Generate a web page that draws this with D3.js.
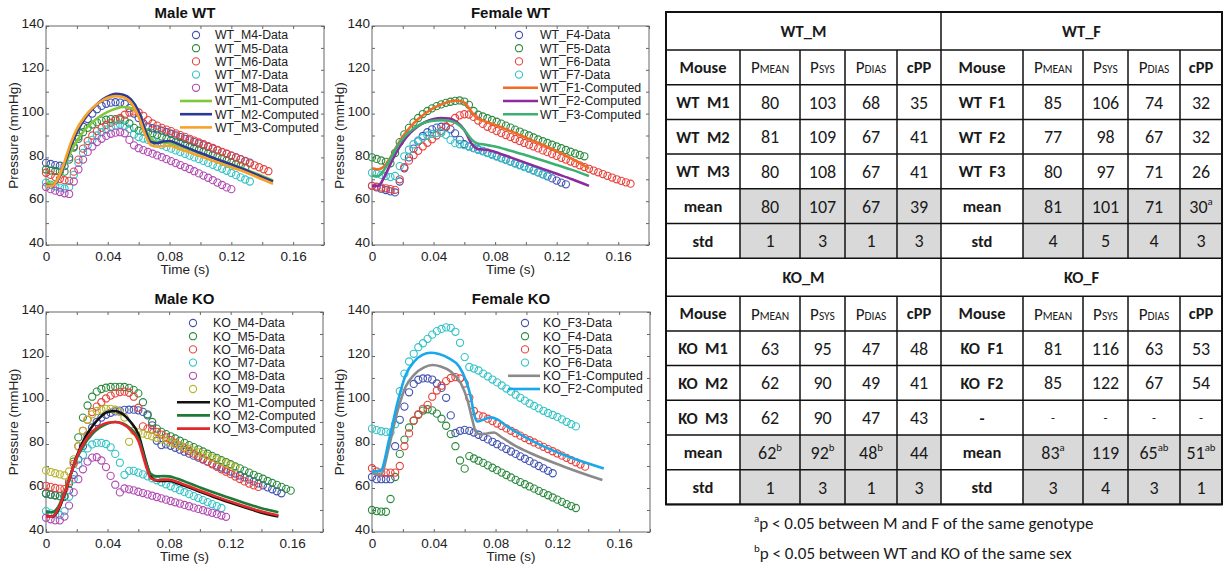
<!DOCTYPE html>
<html>
<head>
<meta charset="utf-8">
<script src="https://cdn.jsdelivr.net/npm/d3@7/dist/d3.min.js"></script>
<style>
body { margin: 0; background: #fff; }
svg { display: block; }
text { white-space: pre; }
</style>
</head>
<body>
<svg id="fig" width="1225" height="571"></svg>
<script>
// sampling step of the measured data (s)
var dt = 0.003

// axis ticks
var xTicks = [0, 0.02, 0.04, 0.06, 0.08, 0.1, 0.12, 0.14, 0.16, 0.18]
var xLabelTicks = [0, 0.04, 0.08, 0.12, 0.16]
var yTicks = [40, 50, 60, 70, 80, 90, 100, 110, 120, 130, 140]
var yLabelTicks = [40, 60, 80, 100, 120, 140]

// ---- Male WT ----
var wtM4 = [77.5,77,76.5,76.2,76,80,85,89.5,94,97.5,100,102,103.5,104.5,105,105.2,105,104.5,102.5,100,98,95.5,94,93.3,92.8,92.2,91.5,90.8,90,89.3,88.5,87.8,87,86.3,85.5,84.8,84,83.2,82.4,81.6,80.8,80,79.2,78.4,77.6]
var wtM5 = [74.5,74,73.8,73.5,73.5,79,84.5,88.5,91.5,93.5,95,96,96.8,97.2,97.5,97.5,97.3,96.8,95.5,93.5,92.2,91.8,91.4,91,90.3,89.5,88.7,88,87.2,86.5,85.8,85,84.3,83.5,82.8,82,81.2,80.4,79.5,78.7,77.8,77,76.2,75.3]
var wtM6 = [73,72,71,70.2,69.6,69.3,73.5,79,84,87.5,90,92,93.5,94.8,95.8,96.8,98,99.5,100.5,101,100.5,99,97,95.5,94.5,93.5,92.7,92,91,90.2,89.4,88.5,87.7,86.8,86,85.1,84.3,83.4,82.5,81.7,80.8,80,79.1,78.2,77.3,76.4,75.5,74.6,73.7]
var wtM7 = [68.5,67.5,66.8,66.2,65.8,66.5,72,77.5,82,85.5,88,90,91.5,92.7,93.7,94.5,95,94.5,93,90.5,89.3,88.6,88,87.2,86.4,85.6,84.8,84,83.2,82.4,81.6,80.8,80,79.2,78.4,77.5,76.6,75.7,74.8,73.9,72.9,71.9,70.9,69.9,69]
var wtM8 = [66.5,65.5,64.8,64.2,63.6,63.3,69,74.5,79,82.5,85,87,88.5,89.8,90.8,91.3,91.5,91,88,85.5,84.2,83.3,82.5,81.7,80.9,80.1,79.2,78.3,77.4,76.5,75.6,74.7,73.7,72.7,71.7,70.7,69.6,68.5,67.4,66.3,65.5]
var tWTM = [0,.004,.008,.012,.016,.02,.025,.03,.035,.04,.045,.05,.055,.06,.065,.068,.072,.076,.08,.085,.09,.1,.11,.12,.13,.14,.147]
var wtM1c = [68.5,68,70.5,76,82.5,87.5,92.5,96,98.8,100.8,102.2,103,102.5,99.5,92,88.5,87,86.8,86.5,85.5,84.3,81.8,79.3,76.8,74.3,71.5,69.5]
var wtM2c = [67.5,67,70,77,85,91.5,97.5,102,105.5,107.8,109,108.6,106.5,101,91,87,86.5,87.3,87.5,86.3,84.8,82,79.3,76.8,74,71,69]
var wtM3c = [67,67,70.5,78,86.5,93,98.5,102.5,105.3,107.2,108,107.5,105,98.5,89,85.5,85,85.2,85.3,84.2,83,80.5,78,75.5,73,70,68]

// ---- Female WT ----
var wtF4 = [67,66.3,65.7,65.1,64.5,64,69,75,80,84,87.3,89.8,91.5,92.8,93.6,94,93.8,92.8,91,88,86,85,84.3,83.6,83,82.2,81.4,80.6,79.8,79,78.2,77.4,76.6,75.8,75,74.1,73.2,72.3,71.4,70.4,69.4,68.5,67.7]
var wtF5 = [80,79.3,78.6,78,77.3,82,87,90.5,93.5,96,98,99.8,101.2,102.4,103.4,104.2,104.9,105.4,105.8,106,105.5,104,101.2,99.5,98.7,97.9,97.1,96.3,95.4,94.5,93.6,92.7,91.8,90.9,90,89.1,88.2,87.4,86.6,85.8,85,84.2,83.4,82.6,81.8,81.1,80.5]
var wtF6 = [67,66.7,66.3,65.9,65.5,65.2,70,75.5,78.5,81,83,85,86.7,88.3,90,92,94.2,96.3,98,99.2,99.7,99.6,98.5,96.8,95.3,94,93,92,91.1,90.2,89.3,88.4,87.5,86.6,85.8,85,84.1,83.2,82.4,81.5,80.7,79.8,79,78.1,77.3,76.4,75.6,74.8,74,73.2,72.4,71.6,70.8,70,69.3,68.6,68]
var wtF7 = [73,72.5,72,71.5,71,71.5,76,80.5,83.5,86,87.8,89,90,90.7,91.1,91.2,90.3,88,86.5,86,85.6,85,84.3,83.6,82.8,82,81.2,80.4,79.6,78.8,78,77.2,76.4,75.6,74.8,74,73.2,72.4,71.6]
var tWTF = [0,.004,.008,.012,.016,.02,.025,.03,.035,.04,.045,.05,.055,.06,.065,.068,.072,.076,.08,.09,.1,.11,.12,.13,.141]
var wtF1c = [75,74.5,76,80,85,89.5,94,97.5,100.3,102.5,104.2,105.4,106,105,100.5,98,96.8,95.8,94.8,92,89,86,82.8,79.3,75]
var wtF2c = [67,67,71,77,82.5,87,91.3,94.3,96.3,97.5,98,97.8,96.3,92.5,86,84,83.6,83.3,82.5,80,77.5,75,72.5,70,67]
var wtF3c = [71.5,71.5,74.5,79.5,84.5,88.5,92,94.5,96,96.8,97,96.7,95.5,92.5,88,86.5,86,85.5,85,83,81,78.8,76.5,74.3,71.5]

// ---- Male KO ----
var koM4 = [57.5,57,56.7,56.3,56,59,66,73,79,84,87.5,90,92,93.3,94.2,94.8,95.2,95.5,95.6,95.6,95.3,94.6,93,88.5,81.5,79.5,79.8,79.2,78.3,77.4,76.5,75.6,74.7,73.8,72.9,72,71.1,70.2,69.3,68.4,67.5,66.6,65.7,64.8,63.9,63,62.1,61.2,60.3,59.4,58.5,57.6]
var koM5 = [57.5,57,56.7,56.3,56.2,62,72,83,92,97.5,101.5,103.8,105,105.6,105.9,106,106,105.9,105.5,104.6,103,99,93.5,90,87,85.5,84.5,83.5,82.5,81.5,80.5,79.5,78.6,77.6,76.6,75.6,74.6,73.7,72.7,71.8,70.8,69.8,68.9,67.9,67,66,65.1,64.2,63.2,62.3,61.4,60.5,59.6,58.8]
var koM6 = [61,60.5,60,59.7,59.5,63,71,79,86,91,94.5,97,99,100.7,102,103,103.6,103.8,103.3,101.5,96.5,88,87,86.5,85.5,84.3,83,81.8,80.5,79.3,78,76.8,75.6,74.4,73.2,72,70.8,69.6,68.5,67.4,66.3,65.2,64.1,63,62,61.2,60.5]
var koM7 = [49.5,48.5,48,47.8,49.5,56,64,70.5,75,78,79.8,80.5,80.5,80,78.5,75.5,71.5,66,67.8,67.8,67,66.2,65.3,64.4,63.5,62.6,61.7,60.8,59.9,59,58.1,57.2,56.3,55.4,54.5,53.6,52.7,51.8,50.9]
var koM8 = [46.5,45.8,45.3,45.3,47,52,58,64,68.5,72,73.8,74,72.5,69.5,65.5,61.5,58,59.8,59.4,58.9,58.3,57.7,57.1,56.5,55.9,55.3,54.7,54.1,53.5,52.9,52.3,51.7,51.1,50.5,49.9,49.3,48.7,48.1,47.5,46.9]
var koM9 = [68,67.3,66.7,66.2,65.7,67.5,73,79,86,91,93.5,95,95.6,96,96,95.6,94.5,92,81,86,85.3,84.7,84.1,83.5,82.8,82.1,81.4,80.7,80,79.3,78.6,77.8,77,76.2,75.4,74.6,73.8,73,72.1,71.2,70.3,69.4]
var tKOM = [0,.004,.008,.012,.016,.02,.025,.03,.035,.04,.045,.05,.055,.06,.065,.068,.072,.076,.08,.085,.09,.1,.11,.12,.13,.14,.151]
var koM1c = [47,47,50,57,66,74.5,82.5,88,92,94.5,95,93.5,90,84.5,72,65.5,63.3,63.2,63.3,62.3,61,58.3,55.7,53.3,51,48.8,47]
var koM2c = [49,49,51.5,58,66,73.5,80,84.5,87.5,89.3,90,89.3,87,82.5,71.5,66.5,65.3,65.4,65.3,64.3,63,60.3,57.7,55.3,53,50.8,49]
var koM3c = [47,47,50.5,57.5,66,74,81,85.5,88.3,89.7,90,89,86.3,81.5,70,64.5,63.5,63.8,63.8,62.8,61.5,58.8,56.2,53.8,51.5,49.3,47.5]

// ---- Female KO ----
var koF3 = [65,64,64,64,64,79,91,97,103.5,107.3,109.2,109.8,109.8,109.3,107.5,105.5,101,93,85,86,86.4,86,85.2,84.2,83.2,82.1,81,79.9,78.8,77.7,76.6,75.5,74.4,73.3,72.2,71.1,70,68.9,67.8,66.7]
var koF4 = [50,49.5,49.3,49.2,55,65,75.5,82,87.5,90.7,93.3,95.2,95.8,95.3,93.8,91.5,88.3,84.5,79,72.5,68.8,74.5,73.4,72.4,71.4,70.3,69.2,68.1,67,65.9,64.8,63.7,62.7,61.7,60.7,59.7,58.7,57.7,56.7,55.7,54.7,53.7,52.7,51.8,50.9]
var koF5 = [69,67.5,67,67,67,67,70,79,84.8,90.5,93.5,96,97.8,101.5,104.3,106.5,108.6,110,110.4,109.8,107.5,101,95,93,92.5,91.5,90.4,89.3,88.2,87.1,86,84.9,83.8,82.7,81.7,80.7,79.7,78.7,77.7,76.7,75.7,74.7,73.7,72.7,71.7,70.7,69.7]
var koF6 = [87,86.3,85.8,85.5,85.3,89,104,112,117.5,121,124,125.8,127.8,129.7,131.3,132.3,133,132.8,131,126,119.5,115,114.3,113.4,112,110.7,109.3,108,106.6,105.2,103.8,102.4,101,99.7,98.4,97.3,96.2,95.1,94.1,93.2,92.3,91.2,90.1,89,88]
var tKOF1 = [0,.0056,.011,.0164,.0218,.0272,.0337,.0391,.0445,.051,.0575,.0618,.065,.0672,.0704,.0747,.079,.0834,.092,.1028,.1244,.1492]
var koF1c = [66.7,66,78.8,94.7,106,111.4,114.8,115.9,115.2,112.9,107.6,100,90.9,85.6,84.4,84.8,85.2,83.3,79.5,75.8,69.7,63.6]
var tKOF2 = [0,.0056,.011,.0164,.0218,.0272,.0326,.038,.0434,.0499,.0564,.0607,.0639,.0665,.0683,.0715,.0769,.0812,.0877,.1028,.1244,.1501]
var koF2c = [67.4,67.9,81.8,98.5,111.4,117.4,120.5,121.5,120.9,118.9,115.2,109.1,101.5,92.4,90.2,90.9,92.1,91.2,87.9,81.8,75,68.9]

// ---- table ----
var tableGroups = [["WT_M", "WT_F"], ["KO_M", "KO_F"]]
var colHeads = ["Mouse", "P|MEAN", "P|SYS", "P|DIAS", "cPP"]
var wtMRows = [["WT  M1","80","103","68","35"], ["WT  M2","81","109","67","41"], ["WT  M3","80","108","67","41"], ["mean","80","107","67","39"], ["std","1","3","1","3"]]
var wtFRows = [["WT  F1","85","106","74","32"], ["WT  F2","77","98","67","32"], ["WT  F3","80","97","71","26"], ["mean","81","101","71","30^a"], ["std","4","5","4","3"]]
var koMRows = [["KO  M1","63","95","47","48"], ["KO  M2","62","90","49","41"], ["KO  M3","62","90","47","43"], ["mean","62^b","92^b","48^b","44"], ["std","1","3","1","3"]]
var koFRows = [["KO  F1","81","116","63","53"], ["KO  F2","85","122","67","54"], ["-","-","-","-","-"], ["mean","83^a","119","65^ab","51^ab"], ["std","3","4","3","1"]]
var footnotes = [["a", "p < 0.05 between M and F of the same genotype"], ["b", "p < 0.05 between WT and KO of the same sex"]]

var C = {b: "#4252b2", g: "#2b8a3e", r: "#e8423c", c: "#33c3c6", m: "#b04ab2", y: "#b7b52c"}

var panels = [
  {title: "Male WT", left: 46, right: 324, top: 26, bottom: 245, leg: [180, 212, 196, 215, 35],
   data: [["WT_M4-Data", C.b, wtM4], ["WT_M5-Data", C.g, wtM5], ["WT_M6-Data", C.r, wtM6], ["WT_M7-Data", C.c, wtM7], ["WT_M8-Data", C.m, wtM8]],
   comp: [["WT_M1-Computed", "#80c83a", tWTM, wtM1c], ["WT_M2-Computed", "#2b3a98", tWTM, wtM2c], ["WT_M3-Computed", "#f7a22b", tWTM, wtM3c]]},
  {title: "Female WT", left: 372, right: 649, top: 26, bottom: 245, leg: [503, 538, 519, 540, 35],
   data: [["WT_F4-Data", C.b, wtF4], ["WT_F5-Data", C.g, wtF5], ["WT_F6-Data", C.r, wtF6], ["WT_F7-Data", C.c, wtF7]],
   comp: [["WT_F1-Computed", "#f26a24", tWTF, wtF1c], ["WT_F2-Computed", "#8c2a9e", tWTF, wtF2c], ["WT_F3-Computed", "#3bb273", tWTF, wtF3c]]},
  {title: "Male KO", left: 46, right: 323, top: 312, bottom: 532, leg: [177, 210, 193, 213, 323],
   data: [["KO_M4-Data", C.b, koM4], ["KO_M5-Data", C.g, koM5], ["KO_M6-Data", C.r, koM6], ["KO_M7-Data", C.c, koM7], ["KO_M8-Data", C.m, koM8], ["KO_M9-Data", C.y, koM9]],
   comp: [["KO_M1-Computed", "#111111", tKOM, koM1c], ["KO_M2-Computed", "#1f7a36", tKOM, koM2c], ["KO_M3-Computed", "#e5262b", tKOM, koM3c]]},
  {title: "Female KO", left: 372, right: 650, top: 312, bottom: 532, leg: [508, 540, 525, 543, 323],
   data: [["KO_F3-Data", C.b, koF3], ["KO_F4-Data", C.g, koF4], ["KO_F5-Data", C.r, koF5], ["KO_F6-Data", C.c, koF6]],
   comp: [["KO_F1-Computed", "#8a8a8a", tKOF1, koF1c], ["KO_F2-Computed", "#1aa8ec", tKOF2, koF2c]]}
]

var svg = d3.select("#fig")
var plotFont = "'Liberation Sans', Arial, sans-serif"
var tabFont = "Carlito, Lato, 'Open Sans', sans-serif"

function fmtX(d) { return d === 0 ? "0" : d.toFixed(2) }

function drawPanel(p) {
  var x = d3.scaleLinear().domain([0, 0.18]).range([p.left, p.right])
  var y = d3.scaleLinear().domain([40, 140]).range([p.bottom, p.top])
  var g = svg.append("g")

  // axes with inward ticks
  g.append("g").attr("transform", "translate(0," + p.bottom + ")")
    .call(d3.axisBottom(x).tickValues(xTicks).tickSize(-3).tickPadding(6)
      .tickFormat(function(d) { return xLabelTicks.indexOf(d) >= 0 ? fmtX(d) : "" }))
  var ly = g.append("g").attr("transform", "translate(" + p.left + ",0)")
    .call(d3.axisLeft(y).tickValues(yTicks).tickSize(-3).tickPadding(2)
      .tickFormat(function(d) { return yLabelTicks.indexOf(d) >= 0 ? d : "" }))
  ly.selectAll("text").attr("dy", "0.12em")
  g.append("g").attr("transform", "translate(0," + p.top + ")")
    .call(d3.axisTop(x).tickValues(xTicks).tickSize(-3).tickFormat(""))
  g.append("g").attr("transform", "translate(" + p.right + ",0)")
    .call(d3.axisRight(y).tickValues(yTicks).tickSize(-3).tickFormat(""))
  g.selectAll(".domain").remove()
  g.selectAll(".tick line").attr("stroke", "#666")
  g.selectAll(".tick text").attr("font-family", plotFont).attr("font-size", 13.5).attr("fill", "#222")
  g.append("rect").attr("x", p.left).attr("y", p.top)
    .attr("width", p.right - p.left).attr("height", p.bottom - p.top)
    .attr("fill", "none").attr("stroke", "#666").attr("stroke-width", 1)

  // data circles
  p.data.forEach(function(s) {
    g.append("g").selectAll("circle").data(s[2]).join("circle")
      .attr("cx", function(d, i) { return x(i * dt) })
      .attr("cy", function(d) { return y(d) })
      .attr("r", 3.6).attr("fill", "none").attr("stroke", s[1]).attr("stroke-width", 1.1)
  })
  // computed lines
  p.comp.forEach(function(s) {
    var pts = s[2].map(function(t, i) { return [t, s[3][i]] })
    g.append("path").datum(pts)
      .attr("d", d3.line().x(function(d) { return x(d[0]) }).y(function(d) { return y(d[1]) }).curve(d3.curveMonotoneX))
      .attr("fill", "none").attr("stroke", s[1]).attr("stroke-width", 2.6)
  })

  // legend
  var step = 13.2
  var items = p.data.map(function(s) { return {name: s[0], color: s[1], type: "o"} })
    .concat(p.comp.map(function(s) { return {name: s[0], color: s[1], type: "l"} }))
  items.forEach(function(it, i) {
    var yy = p.leg[4] + i * step
    if (it.type === "o") {
      g.append("circle").attr("cx", p.leg[2]).attr("cy", yy).attr("r", 3.6)
        .attr("fill", "none").attr("stroke", it.color).attr("stroke-width", 1.1)
    } else {
      g.append("line").attr("x1", p.leg[0]).attr("x2", p.leg[1]).attr("y1", yy).attr("y2", yy)
        .attr("stroke", it.color).attr("stroke-width", 2.6)
    }
    g.append("text").attr("x", p.leg[3]).attr("y", yy + 4.4).text(it.name)
      .attr("font-family", plotFont).attr("font-size", 12.3).attr("fill", "#222")
  })

  // labels
  g.append("text").attr("x", (p.left + p.right) / 2).attr("y", p.top - 8).attr("text-anchor", "middle")
    .attr("font-family", plotFont).attr("font-size", 15).attr("font-weight", "bold").attr("fill", "#111").text(p.title)
  g.append("text").attr("x", (p.left + p.right) / 2).attr("y", p.bottom + 28.5).attr("text-anchor", "middle")
    .attr("font-family", plotFont).attr("font-size", 13.5).attr("fill", "#222").text("Time (s)")
  g.append("text").attr("transform", "translate(" + (p.left - 33) + "," + (p.top + p.bottom) / 2 + ") rotate(-90)")
    .attr("text-anchor", "middle").attr("dy", "0.35em")
    .attr("font-family", plotFont).attr("font-size", 13.5).attr("fill", "#222").text("Pressure (mmHg)")
}

panels.forEach(drawPanel)

// ---------- table ----------
var colX = [[666, 740, 800, 845, 897, 941], [941, 1023, 1083, 1128, 1180, 1222]]
var tableTop = 12, headH = 38, rowH = 34.7
var blockH = headH + 6 * rowH
var tg = svg.append("g").attr("font-family", tabFont).attr("fill", "#1a1a1a")

function cellText(sel, str, cx, cy, size, bold) {
  var parts = str.split("^")
  var t = sel.append("text").attr("x", cx).attr("y", cy + size * 0.36).attr("text-anchor", "middle")
    .attr("font-size", size).attr("font-weight", bold ? "bold" : "normal")
  t.append("tspan").text(parts[0])
  if (parts[1]) t.append("tspan").attr("font-size", size * 0.6).attr("dy", -size * 0.42).text(parts[1])
  return t
}

function headText(sel, str, cx, cy) {
  var parts = str.split("|")
  if (parts.length === 1) { cellText(sel, str, cx, cy, 16.5, true); return }
  var t = sel.append("text").attr("x", cx).attr("y", cy + 6).attr("text-anchor", "middle").attr("font-size", 17)
  t.append("tspan").text(parts[0])
  t.append("tspan").attr("font-size", 11.5).text(parts[1])
}

var blocks = [[wtMRows, wtFRows], [koMRows, koFRows]]
blocks.forEach(function(pair, bi) {
  var y0 = tableTop + bi * blockH
  pair.forEach(function(rows, hi) {
    var cx = colX[hi]
    // grey fill for mean / std numbers
    tg.append("rect").attr("x", cx[1]).attr("y", y0 + headH + 4 * rowH)
      .attr("width", cx[5] - cx[1]).attr("height", 2 * rowH).attr("fill", "#d9d9d9")
    cellText(tg, tableGroups[bi][hi], (cx[0] + cx[5]) / 2, y0 + headH / 2, 16.5, true)
    colHeads.forEach(function(h, ci) {
      headText(tg, h, (cx[ci] + cx[ci + 1]) / 2, y0 + headH + rowH / 2)
    })
    rows.forEach(function(r, ri) {
      var cy = y0 + headH + (ri + 1.5) * rowH
      r.forEach(function(v, ci) {
        var dash = v === "-"
        cellText(tg, v, (cx[ci] + cx[ci + 1]) / 2, cy, ci === 0 ? 16.5 : (dash ? 13 : 18), ci === 0)
      })
    })
    // vertical lines inside the half
    for (var k = 1; k < 5; k++) {
      tg.append("line").attr("x1", cx[k]).attr("x2", cx[k]).attr("y1", y0 + headH).attr("y2", y0 + blockH)
        .attr("stroke", "#111").attr("stroke-width", 1.5)
    }
  })
  // horizontal lines
  for (var r = 0; r <= 6; r++) {
    var yy = y0 + headH + r * rowH
    tg.append("line").attr("x1", 666).attr("x2", 1222).attr("y1", yy).attr("y2", yy)
      .attr("stroke", "#111").attr("stroke-width", 1.5)
  }
})
tg.append("line").attr("x1", 941).attr("x2", 941).attr("y1", tableTop).attr("y2", tableTop + 2 * blockH)
  .attr("stroke", "#111").attr("stroke-width", 1.5)
tg.append("rect").attr("x", 666).attr("y", tableTop).attr("width", 1222 - 666).attr("height", 2 * blockH)
  .attr("fill", "none").attr("stroke", "#111").attr("stroke-width", 2)

// footnotes
footnotes.forEach(function(f, i) {
  var t = tg.append("text").attr("x", 754).attr("y", 529 + i * 30).attr("font-size", 17)
  t.append("tspan").attr("font-size", 11).attr("dy", -7).text(f[0])
  t.append("tspan").attr("dy", 7).text(f[1])
})
</script>
</body>
</html>
